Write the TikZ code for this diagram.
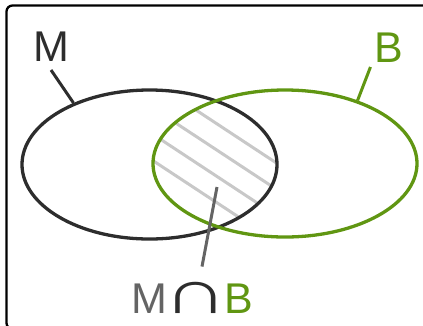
\documentclass[tikz,border=0pt]{standalone}
\usepackage{fontspec}
\setmainfont{Liberation Sans}
\usetikzlibrary{shapes.geometric}
\definecolor{setgreen}{RGB}{96,150,18}
\definecolor{setdark}{RGB}{45,45,45}
\definecolor{labelgray}{RGB}{100,100,100}
\definecolor{hatchgray}{RGB}{200,200,200}
\tikzset{
  setoval/.style={ellipse,draw,line width=3.3pt,inner sep=0pt},
  setlabel/.style={font=\fontsize{43}{43}\selectfont,inner sep=0pt},
  pointer/.style={line width=3pt},
}
\begin{document}
\begin{tikzpicture}[x=1pt,y=-1pt]
\def \mx{149.5};
\def \my{164.5};
\def \bx{285};
\def \by{163.5};
\useasboundingbox (0,0) rectangle (423,325);
\draw[line width=2.3pt,rounded corners=6pt] (6.5,5.5) rectangle (440,329);
\begin{scope}
\clip (\mx,\my) ellipse [x radius=127.5pt,y radius=74.5pt];
\clip (\bx,\by) ellipse [x radius=132pt,y radius=73.5pt];
\foreach \k in {0,...,3}
  \draw[hatchgray,line width=3pt] (140,{73.2+26.3*\k}) -- (300,{73.2+26.3*\k+105.3});
\end{scope}
\node[setoval,setdark,minimum width=255pt,minimum height=149pt] (setM) at (\mx,\my) {};
\node[setoval,setgreen,minimum width=264pt,minimum height=147pt] (setB) at (\bx,\by) {};
\node[setlabel,setdark] (labM) at (51,47) {M};
\node[setlabel,setgreen] (labB) at (389,48) {B};
\node[setlabel,anchor=base] (labMB) at (192.5,313) {\textcolor{labelgray}{M}\hspace{-4pt}\textcolor{setdark}{\scalebox{1.45}[1]{\fontsize{62}{62}\selectfont ∩}}\hspace{-3.5pt}\textcolor{setgreen}{B}};
\coordinate (cutin) at (217,187);
\draw[pointer,setdark] ([yshift=-8pt]labM.south) -- (setM.141);
\draw[pointer,setgreen] ([xshift=-4pt,yshift=-4pt]labB.south west) -- (setB.41);
\draw[pointer,labelgray] (cutin) -- ([xshift=9.5pt,yshift=15pt]labMB.north);
\end{tikzpicture}
\end{document}
